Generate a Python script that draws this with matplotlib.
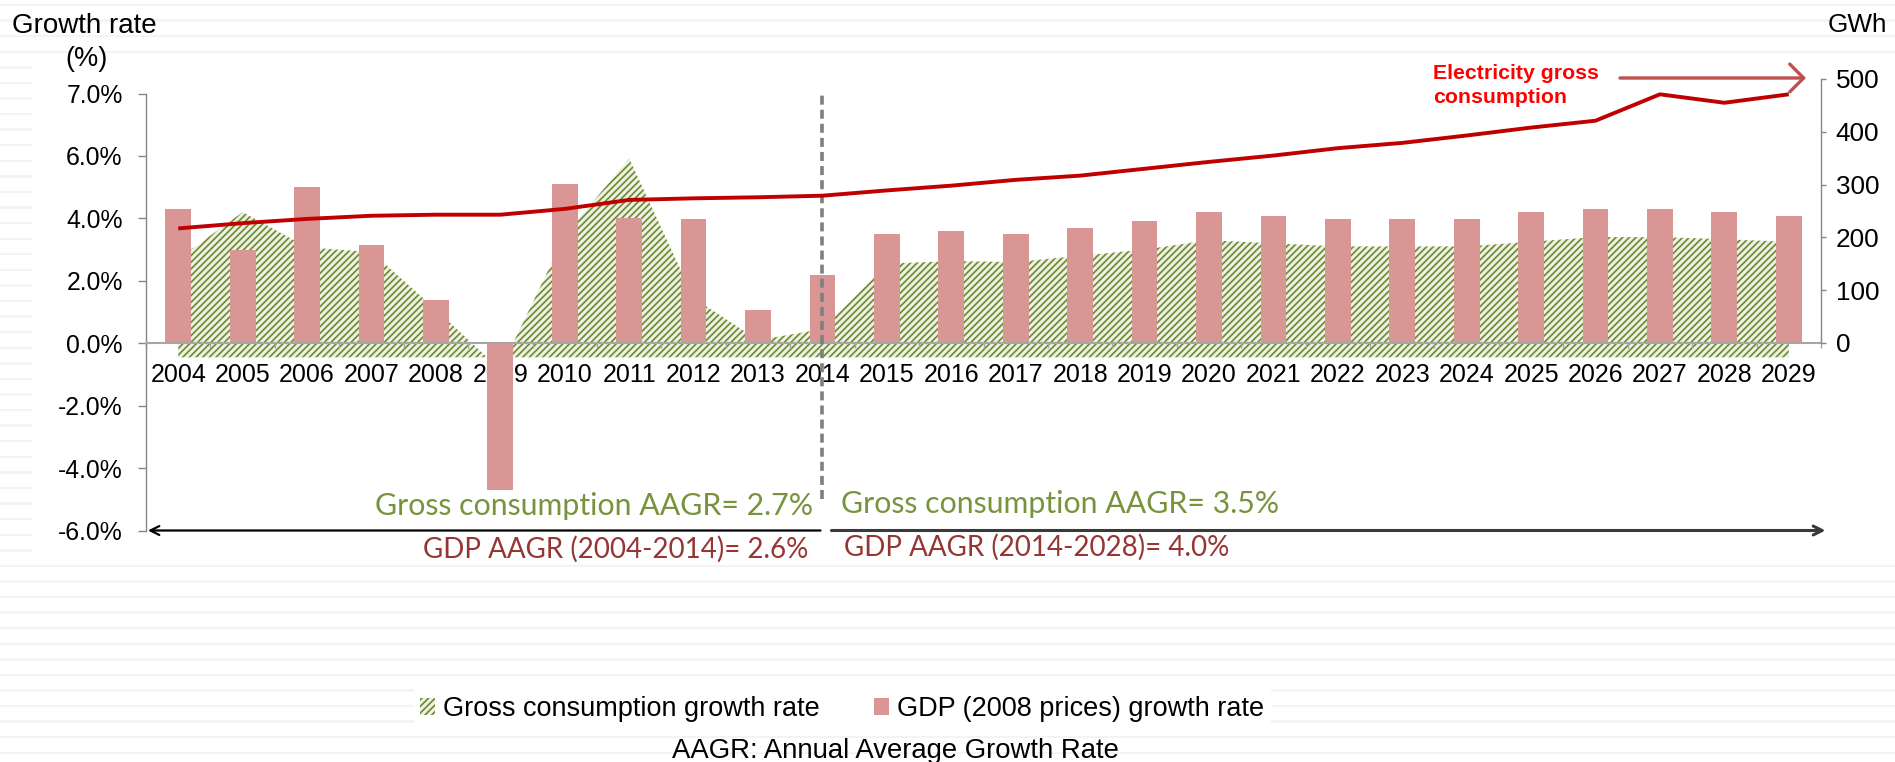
import numpy as np
import matplotlib
matplotlib.use('Agg')
import matplotlib.pyplot as plt
from matplotlib.patches import Rectangle, FancyArrowPatch
from matplotlib.ticker import FixedLocator, FixedFormatter

# ---------------- data ----------------
years = [str(y) for y in range(2004, 2030)]
consumption_growth = [2.7, 4.2, 3.07, 2.92, 1.08, -0.85, 3.44, 5.92, 1.45, 0.1,
                      0.45, 2.55, 2.63, 2.6, 2.8, 3.0, 3.3, 3.2, 3.1, 3.1,
                      3.1, 3.25, 3.4, 3.4, 3.33, 3.25]
gdp_growth = [4.3, 3.0, 5.0, 3.15, 1.4, -4.7, 5.1, 4.02, 3.97, 1.06,
              2.2, 3.5, 3.6, 3.5, 3.7, 3.9, 4.2, 4.08, 3.97, 3.97,
              3.97, 4.2, 4.3, 4.3, 4.2, 4.08]
gross_consumption_gwh = [217, 227, 235, 241, 243, 243, 254, 271, 274, 276,
                         279, 289, 298, 309, 317, 330, 343, 355, 369, 379,
                         393, 408, 421, 471, 455, 471]
left_tick_values = [-6, -4, -2, 0, 2, 4, 6, 8]
left_tick_labels = ['-6.0%', '-4.0%', '-2.0%', '0.0%', '2.0%', '4.0%', '6.0%', '7.0%']
right_tick_values = [0, 100, 200, 300, 400, 500]
split_year = '2014'
area_base = -0.45

# ---------------- style ----------------
W, H, DPI = 1895, 762, 100
GREEN = '#6F8C34'
PINK = '#D99694'
LINE_RED = '#C00000'
TXT_GREEN = '#77933C'
TXT_RED = '#963634'
plt.rcParams['font.family'] = ['Liberation Sans', 'DejaVu Sans']
plt.rcParams['hatch.linewidth'] = 1.25

fig = plt.figure(figsize=(W / DPI, H / DPI), dpi=DPI)
fig.patch.set_facecolor('white')

def fx(px):
    return px / W

def fy(py):
    return 1 - py / H

# faint background stripes, and the white chart area
for ys in np.arange(5, H, 15.58):
    fig.add_artist(Rectangle((0, fy(ys + 1.2)), 1, 2.4 / H, transform=fig.transFigure,
                             facecolor='#F3F4F4', edgecolor='none', zorder=-3))
fig.add_artist(Rectangle((fx(32), fy(557)), 1 - fx(32), (557 - 57) / H, transform=fig.transFigure,
                         facecolor='white', edgecolor='none', zorder=-2))

x = np.arange(len(years))
split = years.index(split_year)

# ---------------- main (left) axes ----------------
ax1 = fig.add_axes([fx(146), fy(530.5), 1675 / W, 437 / H])
ax1.set_facecolor('none')
ax1.set_xlim(-0.5, len(years) - 0.5)
ax1.set_ylim(-6, 8)

area = ax1.fill_between(x, area_base, consumption_growth, facecolor='#EEF2E4', edgecolor=GREEN,
                        hatch='/////', linewidth=0, zorder=1, label='Gross consumption growth rate')
bars = ax1.bar(x, gdp_growth, width=0.4, color=PINK, zorder=2, label='GDP (2008 prices) growth rate')

for s in ['top', 'right']:
    ax1.spines[s].set_visible(False)
ax1.spines['bottom'].set_position(('data', 0))
ax1.spines['bottom'].set_color('#A6A6A6')
ax1.spines['bottom'].set_linewidth(1.5)
ax1.spines['bottom'].set_zorder(3)
ax1.spines['left'].set_color('#868686')
ax1.spines['left'].set_linewidth(1.0)

ax1.set_xticks(x)
ax1.set_xticklabels(years)
ax1.set_xticks(np.arange(-0.5, len(years)), minor=True)
ax1.tick_params(axis='x', which='major', length=0, pad=14, labelsize=18)
ax1.tick_params(axis='x', which='minor', length=3.6, width=1, color='#A6A6A6', direction='out')

ax1.yaxis.set_major_locator(FixedLocator(left_tick_values))
ax1.yaxis.set_major_formatter(FixedFormatter(left_tick_labels))
ax1.tick_params(axis='y', length=5.8, width=1, color='#868686', pad=11, labelsize=17.8)

# dashed split line
ax1.axvline(split, ymin=(-5.0 - (-6)) / 14, ymax=1, color='#7F7F7F', lw=2.6,
            linestyle=(0, (2.5, 1.4)), zorder=4)

# double arrows at the bottom
ax1.annotate('', xy=(-0.47, -6), xytext=(split - 0.03, -6),
             arrowprops=dict(arrowstyle='->', color='black', lw=1.6, shrinkA=0, shrinkB=0,
                             mutation_scale=16), annotation_clip=False)
ax1.annotate('', xy=(len(years) - 0.43, -6), xytext=(split + 0.14, -6),
             arrowprops=dict(arrowstyle='->', color='#3A3A3A', lw=2.2, shrinkA=0, shrinkB=0,
                             mutation_scale=16), annotation_clip=False)

# ---------------- secondary (right) axes ----------------
ax2 = fig.add_axes([fx(146), fy(343), 1675 / W, (343 - 79) / H])
ax2.set_facecolor('none')
ax2.set_xlim(-0.5, len(years) - 0.5)
ax2.set_ylim(0, 500)
ax2.plot(x, gross_consumption_gwh, color=LINE_RED, lw=2.8, solid_capstyle='butt', zorder=5)
for s in ['top', 'left', 'bottom']:
    ax2.spines[s].set_visible(False)
ax2.spines['right'].set_color('#868686')
ax2.spines['right'].set_linewidth(1.0)
ax2.xaxis.set_visible(False)
ax2.yaxis.tick_right()
ax2.yaxis.set_major_locator(FixedLocator(right_tick_values))
ax2.tick_params(axis='y', length=3.6, width=1, color='#868686', pad=7, labelsize=18.8)

# ---------------- texts ----------------
renderer = fig.canvas.get_renderer()

def fit_text(x0, x1, baseline, s, color, family, weight='normal', base=18):
    t = fig.text(fx(x0), fy(baseline), s, ha='left', va='baseline', fontsize=base,
                 color=color, family=family, weight=weight)
    w = t.get_window_extent(renderer).width
    t.set_fontsize(base * (x1 - x0) / w)
    return t

fit_text(375, 812, 515, 'Gross consumption AAGR= 2.7%', TXT_GREEN, ['Lato', 'DejaVu Sans'])
fit_text(841, 1279, 513, 'Gross consumption AAGR= 3.5%', TXT_GREEN, ['Lato', 'DejaVu Sans'])
fit_text(423, 808, 557.5, 'GDP AAGR (2004-2014)= 2.6%', TXT_RED, ['Lato', 'DejaVu Sans'])
fit_text(844, 1230, 556, 'GDP AAGR (2014-2028)= 4.0%', TXT_RED, ['Lato', 'DejaVu Sans'])

fig.text(fx(12), fy(33), 'Growth rate', ha='left', va='baseline', fontsize=20)
fig.text(fx(86.5), fy(66), '(%)', ha='center', va='baseline', fontsize=19.5)
fig.text(fx(1887), fy(32), 'GWh', ha='right', va='baseline', fontsize=18.8)
fig.text(fx(1433), fy(79.3), 'Electricity gross', ha='left', va='baseline', fontsize=15.3,
         color='#FF0000', weight='bold')
fig.text(fx(1433), fy(103), 'consumption', ha='left', va='baseline', fontsize=15.3,
         color='#FF0000', weight='bold')
fig.add_artist(FancyArrowPatch((fx(1620), fy(78)), (fx(1806), fy(78)), transform=fig.transFigure,
                               arrowstyle='->,head_length=0.5,head_width=0.5', mutation_scale=20,
                               color='#C0504D', lw=2.4, shrinkA=0, shrinkB=0))
fig.text(fx(895), fy(758), 'AAGR: Annual Average Growth Rate', ha='center', va='baseline',
         fontsize=19.8)

# ---------------- legend ----------------
fig.legend(handles=[area, bars], labels=['Gross consumption growth rate', 'GDP (2008 prices) growth rate'],
           loc='center', bbox_to_anchor=(fx(842.5), fy(709)), ncol=2, fontsize=19.5,
           frameon=True, facecolor='white', edgecolor='none', framealpha=1, fancybox=False,
           handlelength=0.55, handleheight=0.55, handletextpad=0.3, columnspacing=2.0,
           borderpad=0.25, borderaxespad=0)

fig.savefig('out.png', dpi=DPI, facecolor='white')
